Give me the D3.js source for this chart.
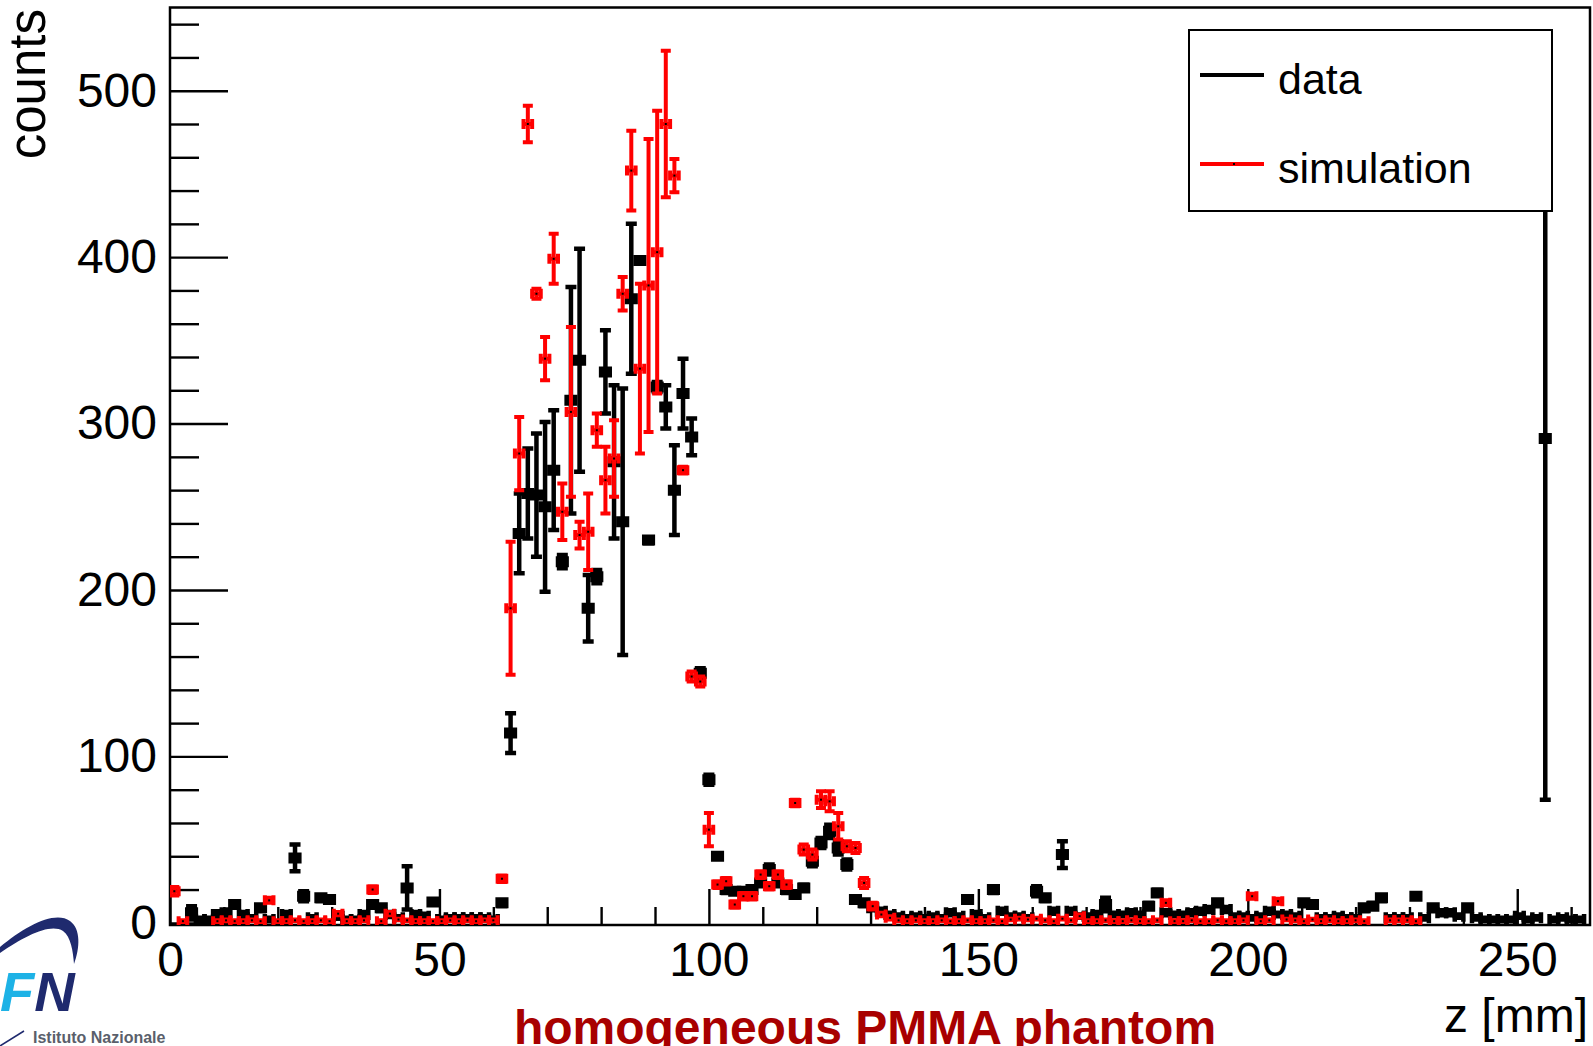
<!DOCTYPE html>
<html>
<head>
<meta charset="utf-8">
<script src="https://cdn.jsdelivr.net/npm/d3@7"></script>
<style>
  body { margin: 0; background: #fff; }
  svg text { font-family: "Liberation Sans", Arial, Helvetica, sans-serif; }
</style>
</head>
<body>
<div id="chart"></div>
<script>
// histogram binning (1.6 mm bins starting at z = 0)
const binLow = 0, binWidth = 1.6;

// measured counts per bin (null = empty bin, not drawn)
const dataCounts = [
  null, null, 6, 2, 2, 5, 6, 11, 5, 3,
  9, 2, null, 5, 39, 16, 3, 15, 14, 4,
  2, 2, 5, 11, 9, 5, 3, 21, 5, 4,
  12.5, 2, 3, 3, 3, 3, 3, 2, 12, 114,
  234, 258, 257, 250, 272, 217, 314, 338, 189, 208,
  331, 277, 241, 375, 398, 230, 322, 310, 260, 318,
  292, 150, 86, 40, 20, 19, 19, 20, 24, 32,
  24, 20, 17, 21, 37, 48, 55, 45, 35, 14,
  12, 9, 7, 5, 4, 3, 4, 3, 4, 3,
  6, 4, 14, 5, 3, 20, 7, 4, 4, 3,
  19, 15, 7, 41, 7, 4, 4, 5, 11, 5,
  5, 6, 5, 10, 18, 6, 5, 5, 6, 7,
  8, 12, 8, 4, 4, 3, 4, 7, 5, 5,
  4, 12, 11, 3, 3, 4, 3, 3, 9, 10,
  15, 3, 3, 3, 16, 3, 9, 6, 6, 4,
  9, 3, 2, 2, 2, 2, 4, 2, 3, 291,
  2, 3, 2, 2, null
];
const dataErrors = [
  0, 0, 4, 1, 1, 2, 2, 2, 1.5, 1,
  2, 1, 0, 1.5, 8, 3, 1, 2, 2, 1.5,
  1, 1, 1.5, 2, 2, 1.5, 1, 13, 1.5, 1.5,
  2, 1, 1, 1, 1, 1, 1, 1, 2, 12,
  24, 27, 37, 51, 36, 4, 68, 67, 20, 4,
  25, 46, 80, 45, 2, 2, 3, 13, 27, 21,
  11, 3, 3, 2, 2, 2, 2, 2, 2, 3,
  2, 2, 2, 2, 3, 3, 4, 4, 3, 2,
  2, 1.5, 1.5, 1, 1, 1, 1, 1, 1, 1,
  1.5, 1, 2, 1.5, 1, 2, 1.5, 1, 1, 1,
  3, 2, 1.5, 8, 1.5, 1, 1, 1.5, 4, 1,
  1, 1.5, 1, 2, 2, 1.5, 1, 1, 1.5, 1.5,
  1.5, 2, 1.5, 1, 1, 1, 1, 1.5, 1, 1,
  1, 2, 2, 1, 1, 1, 1, 1, 2, 2,
  2, 1, 1, 1, 2, 1, 2, 1.5, 1.5, 1,
  2, 1, 1, 1, 1, 1, 1, 1, 1, 217,
  1, 1, 1, 1, 0
];
const simCounts = [
  19, 1, null, null, null, 1, 1.5, 1, 1, 1.5,
  1, 13.5, 1, 1, 1.5, 1, 1, 1.5, 1, 5.5,
  1, 1, 1.5, 20, 1, 5.5, 2, 1.5, 1, 1,
  1, 1, 1.5, 1, 1.5, 1, 1.5, 1.5, 26.5, 189,
  282, 480, 378, 339, 399, 247, 307, 233, 235, 296,
  266, 279, 378, 452, 333, 383, 403, 480, 449, 272,
  148, 145, 56, 23, 25, 11, 16, 16, 29, 22,
  29, 23, 72, 44, 41, 74, 73, 58, 46, 45,
  24, 10, 5, 3, 1.5, 1, 1.5, 1, 1, 1.5,
  1, 1, 1.5, 1, 1, 1.5, 1, 2, 2.5, 2,
  2.5, 1.5, 1, 2.5, 1.5, 4, 1, 1, 1.5, 1,
  1, 1.5, 1, 1, 1.5, 12, 1, 1, 1.5, 1,
  1, 1.5, 1, 1, 1.5, 16, 1, 1.5, 13, 2,
  1.5, 1, 2, 1, 1.5, 1, 1, 1.5, 1, null,
  null, 1.5, 1.5, 1.5, 1, null, null, null, null, null,
  null, null, null, null, null, null, null, null, null, null,
  null, null, null, null, null
];
const simErrors = [
  2.5, 0.5, 0, 0, 0, 0.5, 0.5, 0.5, 0.5, 0.5,
  0.5, 1.5, 0.5, 0.5, 0.5, 0.5, 0.5, 0.5, 0.5, 1,
  0.5, 0.5, 0.5, 2, 0.5, 1, 0.5, 0.5, 0.5, 0.5,
  0.5, 0.5, 0.5, 0.5, 0.5, 0.5, 0.5, 0.5, 2, 40,
  22, 11, 3, 13, 15, 17, 51, 8, 23, 10,
  20, 23, 10, 24, 51, 88, 85, 44, 10, 2,
  3, 3, 10, 2, 2, 2, 2, 2, 2, 2,
  2, 2, 2, 3, 3, 5, 6, 8, 3, 3,
  3, 2, 1, 1, 0.5, 0.5, 0.5, 0.5, 0.5, 0.5,
  0.5, 0.5, 0.5, 0.5, 0.5, 0.5, 0.5, 0.5, 0.5, 0.5,
  0.5, 0.5, 0.5, 0.5, 0.5, 1, 0.5, 0.5, 0.5, 0.5,
  0.5, 0.5, 0.5, 0.5, 0.5, 1.5, 0.5, 0.5, 0.5, 0.5,
  0.5, 0.5, 0.5, 0.5, 0.5, 1.5, 0.5, 0.5, 1.5, 0.5,
  0.5, 0.5, 0.5, 0.5, 0.5, 0.5, 0.5, 0.5, 0.5, 0,
  0, 0.5, 0.5, 0.5, 0.5, 0, 0, 0, 0, 0,
  0, 0, 0, 0, 0, 0, 0, 0, 0, 0,
  0, 0, 0, 0, 0
];

const xTicksMajor = [0, 50, 100, 150, 200, 250];
const yTicksMajor = [0, 100, 200, 300, 400, 500];
const legendLabels = ["data", "simulation"];
const seriesColors = ["#000000", "#ff0000"];

const width = 1593, height = 1046;
const frame = { left: 170, right: 1590, top: 7.5, bottom: 925 };

const svg = d3.select("#chart").append("svg")
  .attr("width", width).attr("height", height);
svg.append("rect").attr("width", width).attr("height", height).attr("fill", "#fff");

const x = d3.scaleLinear().domain([0, 263.5]).range([frame.left, frame.right]);
const y = d3.scaleLinear().domain([-1.3, 550]).range([frame.bottom, frame.top]);

// axes (ROOT style: ticks point inside the frame)
const gx = svg.append("g").attr("transform", `translate(0,${frame.bottom})`)
  .call(d3.axisBottom(x).tickValues(xTicksMajor).tickSize(-36).tickSizeOuter(0).tickPadding(17));
svg.append("g").attr("transform", `translate(0,${frame.bottom})`)
  .call(d3.axisBottom(x).tickValues(d3.range(10, 261, 10).filter(v => v % 50)).tickSize(-18).tickSizeOuter(0).tickFormat(""));
const gy = svg.append("g").attr("transform", `translate(${frame.left},0)`)
  .call(d3.axisLeft(y).tickValues(yTicksMajor).tickSize(-58).tickSizeOuter(0).tickPadding(13));
svg.append("g").attr("transform", `translate(${frame.left},0)`)
  .call(d3.axisLeft(y).tickValues(d3.range(20, 541, 20).filter(v => v % 100)).tickSize(-29).tickSizeOuter(0).tickFormat(""));

svg.selectAll(".domain").remove();
svg.selectAll(".tick line").attr("stroke", "#000").attr("stroke-width", 2.4);
[gx, gy].forEach(g => g.attr("font-size", 48).attr("font-family", "Liberation Sans, Arial, sans-serif"));
svg.selectAll(".tick text").attr("fill", "#000");

// frame
svg.append("rect")
  .attr("x", frame.left).attr("y", frame.top)
  .attr("width", frame.right - frame.left).attr("height", frame.bottom - frame.top)
  .attr("fill", "none").attr("stroke", "#000").attr("stroke-width", 2.5);

// axis titles
svg.append("text")
  .attr("transform", "translate(45,9) rotate(-90)")
  .attr("text-anchor", "end").attr("font-size", 51)
  .text("counts");
svg.append("text")
  .attr("x", 1588).attr("y", 1032).attr("text-anchor", "end").attr("font-size", 48)
  .text("z [mm]");

// histograms with E1-style error bars
svg.append("clipPath").attr("id", "plotclip").append("rect")
  .attr("x", frame.left).attr("y", frame.top)
  .attr("width", frame.right - frame.left).attr("height", frame.bottom - frame.top);
const plot = svg.append("g").attr("clip-path", "url(#plotclip)");

function drawHist(counts, errors, color, lw, cap, dot) {
  const pts = counts.map((v, i) => ({ z: binLow + (i + 0.5) * binWidth, v, e: errors[i] }))
    .filter(d => d.v !== null);
  const g = plot.append("g");
  g.selectAll("path").data(pts).join("path")
    .attr("fill", "none").attr("stroke", color).attr("stroke-width", lw)
    .attr("d", d => {
      const cx = x(d.z), cy = y(d.v);
      const xl = x(d.z - binWidth / 2), xr = x(d.z + binWidth / 2);
      const yt = y(d.v + d.e), yb = y(d.v - d.e);
      return `M${xl},${cy}H${xr}` +
        `M${xl},${cy - cap}V${cy + cap}M${xr},${cy - cap}V${cy + cap}` +
        `M${cx},${yt}V${yb}` +
        `M${cx - cap},${yt}H${cx + cap}M${cx - cap},${yb}H${cx + cap}`;
    });
  if (dot) {
    g.selectAll("rect").data(pts).join("rect")
      .attr("x", d => x(d.z) - 1).attr("y", d => y(d.v) - 1)
      .attr("width", 2).attr("height", 2).attr("fill", "#000");
  }
}
drawHist(dataCounts, dataErrors, seriesColors[0], 4.5, 5.5, false);
drawHist(simCounts, simErrors, seriesColors[1], 4, 5, true);

// legend
const legend = svg.append("g");
legend.append("rect")
  .attr("x", 1189).attr("y", 30).attr("width", 363).attr("height", 181)
  .attr("fill", "#fff").attr("stroke", "#000").attr("stroke-width", 2);
legendLabels.forEach((t, i) => {
  const ly = 75 + i * 89;
  legend.append("line")
    .attr("x1", 1200).attr("x2", 1264).attr("y1", ly).attr("y2", ly)
    .attr("stroke", seriesColors[i]).attr("stroke-width", 4);
  if (i === 1) legend.append("rect").attr("x", 1233).attr("y", ly - 1).attr("width", 2).attr("height", 2).attr("fill", "#000");
  legend.append("text")
    .attr("x", 1278).attr("y", ly + 19).attr("font-size", 43)
    .text(t);
});

// caption
svg.append("text")
  .attr("x", 865).attr("y", 1044).attr("text-anchor", "middle")
  .attr("font-size", 48).attr("font-weight", "bold").attr("fill", "#a80000")
  .text("homogeneous PMMA phantom");

// INFN logo (cropped at the page edge)
const logo = svg.append("g");
logo.append("path")
  .attr("d", "M0,947 C25,926 55,910 70,921 C81,929 80,948 74,964 C73,951 71,937 63,931 C50,923 25,936 0,953 Z")
  .attr("fill", "#1f2a6e");
const fn = logo.append("text")
  .attr("x", 0).attr("y", 1011).attr("font-size", 56)
  .attr("font-weight", "bold").attr("font-style", "italic");
fn.append("tspan").attr("fill", "#1db2e6").text("F");
fn.append("tspan").attr("fill", "#1f2a6e").text("N");
logo.append("line")
  .attr("x1", 0).attr("y1", 1046).attr("x2", 24).attr("y2", 1031)
  .attr("stroke", "#1f2a6e").attr("stroke-width", 1.5);
logo.append("text")
  .attr("x", 33).attr("y", 1043).attr("font-size", 16).attr("font-weight", "bold")
  .attr("fill", "#5a5f6b")
  .text("Istituto Nazionale");
</script>
</body>
</html>
